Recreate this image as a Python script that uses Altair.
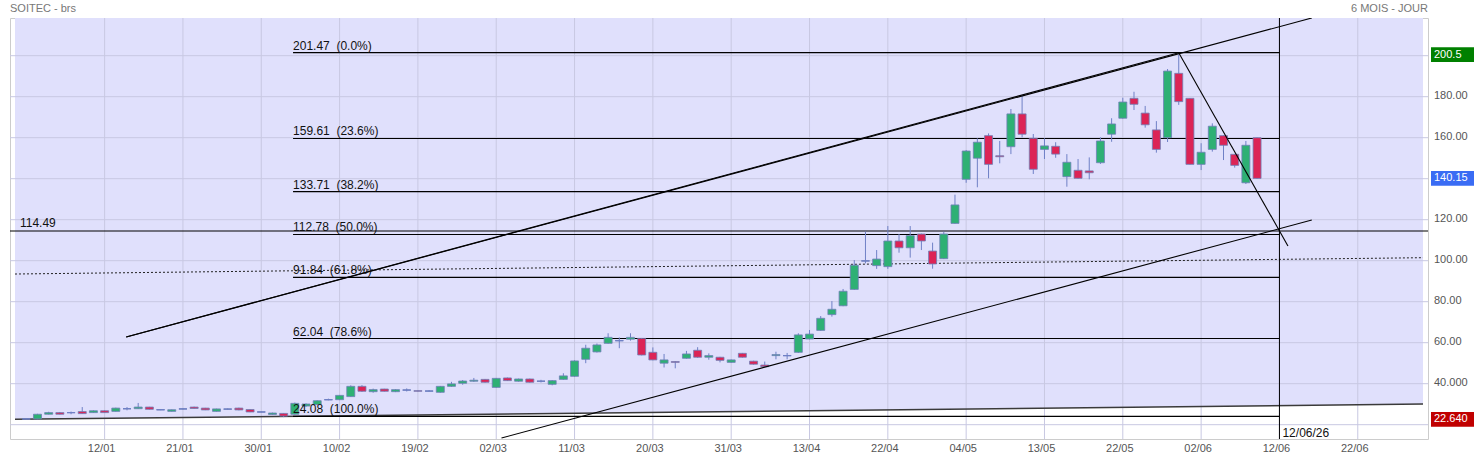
import altair as alt
import pandas as pd

FONT = "Liberation Sans"
W, H = 1418, 421
X_DOMAIN = [-8.01, 117.83]
Y_DOMAIN = [13.02, 218.39]

LAVENDER = "#e0e0fc"
GRID = "#c8c8e2"
GREEN = "#2eb074"
RED = "#dc2456"
WICK = "#6f80c6"

# ---- data -------------------------------------------------------------
title_left = "SOITEC - brs"
title_right = "6 MOIS - JOUR"

x_labels = ["12/01", "21/01", "30/01", "10/02", "19/02", "02/03", "11/03", "20/03", "31/03",
            "13/04", "22/04", "04/05", "13/05", "22/05", "02/06", "12/06", "22/06"]
label_step = 7
x_ticks = [k * label_step for k in range(len(x_labels))]

y_ticks = [40, 60, 80, 100, 120, 160, 180]
y_tick_labels = ["40.000", "60.00", "80.00", "100.00", "120.00", "160.00", "180.00"]
y_grid = [20, 40, 60, 80, 100, 120, 140, 160, 180, 200]

first_index = -7
opens = [22.8, 22.8, 25.1, 25.9, 25.9, 26.4, 25.9, 26.8, 26.5, 27.8,
         27.8, 28.6, 27.3, 26.5, 27.7, 28.6, 28.1, 26.5, 27.6, 28.1,
         27.4, 26.2, 25.0, 25.5, 25.1, 29.1, 29.8, 32.2, 32.2, 33.7,
         38.7, 36.1, 37.4, 36.1, 36.9, 36.6, 36.4, 35.8, 38.7, 40.2,
         41.2, 42.1, 38.2, 42.8, 41.2, 42.3, 41.2, 39.7, 42.1, 43.6,
         51.9, 55.5, 59.7, 61.0, 61.7, 62.1, 55.3, 50.0, 50.8, 52.4,
         56.3, 52.9, 52.9, 50.4, 54.8, 51.0, 49.1, 53.7, 53.7, 55.3,
         61.8, 66.0, 73.7, 78.0, 86.0, 99.9, 97.6, 97.1, 109.6, 106.3,
         113.0, 104.7, 101.0, 118.2, 139.7, 150.0, 161.0, 151.2, 155.6, 171.6,
         159.7, 154.3, 155.8, 141.0, 144.1, 143.8, 147.8, 161.7, 169.5, 179.2,
         172.0, 163.8, 160.0, 191.4, 179.2, 147.0, 154.3, 161.0, 151.9, 138.0,
         160.0]
highs = [23.0, 25.3, 26.3, 26.2, 26.4, 28.6, 27.0, 27.0, 28.3, 28.6,
         30.6, 28.7, 27.6, 27.4, 28.0, 28.8, 28.2, 27.8, 27.9, 28.3,
         27.5, 26.5, 25.9, 25.6, 30.8, 30.4, 31.9, 32.7, 34.5, 39.2,
         39.3, 37.6, 37.5, 37.3, 37.7, 36.7, 36.9, 38.9, 40.9, 41.8,
         42.8, 42.3, 42.8, 43.0, 42.5, 42.5, 41.9, 41.8, 45.1, 51.4,
         59.0, 59.6, 64.6, 62.6, 64.6, 62.3, 57.7, 54.5, 50.9, 56.0,
         57.8, 54.8, 53.1, 51.8, 55.0, 51.2, 50.8, 55.6, 55.0, 64.6,
         66.2, 73.0, 80.3, 86.2, 100.3, 114.2, 105.2, 116.9, 113.0, 116.9,
         113.2, 108.8, 114.1, 132.2, 154.0, 159.7, 162.1, 158.4, 174.0, 180.5,
         161.8, 159.7, 157.8, 152.0, 149.6, 150.4, 160.2, 169.5, 179.5, 182.4,
         175.5, 168.1, 193.5, 200.5, 179.3, 157.3, 167.0, 161.2, 152.0, 158.4,
         160.1]
lows = [22.64, 22.64, 25.0, 25.0, 25.1, 25.3, 25.8, 25.8, 26.4, 27.0,
        27.7, 27.4, 27.1, 26.4, 27.4, 27.8, 27.1, 26.4, 27.3, 27.0,
        26.1, 26.0, 24.9, 23.7, 24.9, 28.7, 29.6, 31.9, 32.0, 33.5,
        36.0, 35.6, 36.2, 35.9, 36.2, 36.2, 36.1, 35.6, 38.5, 39.5,
        40.9, 40.5, 38.0, 41.3, 41.0, 40.5, 40.6, 39.2, 41.9, 43.4,
        50.0, 55.2, 59.5, 57.3, 61.0, 53.8, 51.4, 47.9, 47.5, 52.2,
        52.6, 51.7, 50.4, 50.2, 52.7, 49.3, 48.1, 51.9, 51.9, 55.0,
        61.6, 65.8, 72.7, 77.8, 85.8, 98.7, 96.0, 96.0, 103.9, 101.5,
        105.2, 96.1, 100.8, 118.0, 138.0, 135.8, 140.2, 147.5, 152.0, 160.2,
        142.3, 149.6, 150.2, 136.1, 140.0, 139.7, 147.2, 158.0, 169.3, 173.5,
        164.9, 152.7, 157.9, 176.0, 146.9, 144.2, 153.2, 149.1, 145.4, 137.4,
        140.0]
closes = [22.8, 25.1, 25.9, 25.1, 25.9, 25.4, 26.8, 25.9, 28.1, 27.8,
          28.6, 27.5, 27.3, 27.3, 27.7, 27.9, 27.2, 27.7, 27.6, 27.2,
          26.2, 26.2, 25.7, 24.2, 30.4, 30.1, 31.7, 32.2, 34.3, 38.7,
          36.3, 37.1, 36.3, 37.1, 36.9, 36.3, 36.4, 38.7, 39.9, 41.3,
          41.7, 40.7, 42.6, 41.5, 42.3, 40.7, 41.2, 41.5, 43.8, 51.1,
          57.3, 58.9, 62.6, 61.0, 62.6, 54.0, 51.6, 51.6, 50.4, 54.5,
          52.9, 53.7, 51.4, 51.6, 52.9, 49.5, 48.3, 54.2, 53.7, 63.8,
          64.2, 71.9, 76.3, 85.1, 97.8, 99.9, 100.8, 109.6, 106.3, 112.2,
          109.6, 98.4, 113.0, 127.2, 153.5, 157.8, 147.0, 150.7, 171.6, 161.7,
          144.6, 156.0, 152.0, 148.0, 140.2, 142.9, 158.4, 166.7, 177.4, 176.3,
          166.3, 154.3, 192.5, 177.6, 147.0, 152.9, 165.6, 156.3, 146.5, 156.3,
          140.15]

fib_levels = [201.47, 159.61, 133.71, 112.78, 91.84, 62.04, 24.08]
fib_pcts = ["0.0%", "23.6%", "38.2%", "50.0%", "61.8%", "78.6%", "100.0%"]
fib_start, fib_end = 16.84, 105.0

hline_level = 114.49
vline_index = 105
vline_label = "12/06/26"

# trend lines: (name, x-index points, price points)
trend_names = ["upper_a", "upper_a", "upper_b", "upper_b", "descent", "descent", "lower", "lower"]
trend_x = [1.93, 107.89, 1.93, 96.0, 96.0, 105.76, 35.47, 107.89]
trend_y = [62.78, 218.4, 62.78, 201.47, 201.47, 107.17, 13.5, 119.85]

support_x = [-8.01, 117.83]
support_y = [22.63, 30.1]
dotted_x = [-8.01, 117.83]
dotted_y = [93.5, 101.46]

box_values = [200.5, 140.15, 22.64]
box_labels = ["200.5", "140.15", "22.640"]
box_colors = ["#008000", "#3a6cf4", "#c00000"]

# ---- frames -----------------------------------------------------------
n = len(opens)
candles = pd.DataFrame({
    "i": list(range(first_index, first_index + n)),
    "o": opens, "h": highs, "l": lows, "c": closes,
})
candles["dir"] = ["up" if c > o else ("down" if c < o else "flat") for o, c in zip(opens, closes)]

xs = alt.Scale(domain=X_DOMAIN, nice=False, zero=False)
ys = alt.Scale(domain=Y_DOMAIN, nice=False, zero=False)


def X(f):
    return alt.X(f, type="quantitative", scale=xs, axis=None, title=None)


def Y(f):
    return alt.Y(f, type="quantitative", scale=ys, axis=None, title=None)


area_df = pd.DataFrame({"x": support_x, "y": support_y, "top": [Y_DOMAIN[1]] * len(support_x)})
area = alt.Chart(area_df).mark_area(color=LAVENDER, clip=True).encode(
    x=X("x"), y=Y("top"), y2="y:Q")

grid_x = alt.Chart(pd.DataFrame({"gx": x_ticks})).mark_rule(color=GRID, strokeWidth=1).encode(x=X("gx"))
grid_y = alt.Chart(pd.DataFrame({"gy": y_grid})).mark_rule(color=GRID, strokeWidth=1).encode(y=Y("gy"))

x_lab = alt.Chart(pd.DataFrame({"x": x_ticks, "t": x_labels})).mark_text(
    align="center", baseline="middle", dx=-3, font=FONT, fontSize=11, color="#555555"
).encode(x=X("x"), y=alt.value(H + 10), text="t:N")

y_lab = alt.Chart(pd.DataFrame({"v": y_ticks, "t": y_tick_labels})).mark_text(
    align="left", baseline="middle", dy=-1, font=FONT, fontSize=11, color="#555555"
).encode(x=alt.value(W + 6), y=Y("v"), text="t:N")

support = alt.Chart(pd.DataFrame({"x": support_x, "y": support_y})).mark_line(
    color="#3a3a3a", strokeWidth=1.5, clip=True
).encode(x=X("x"), y=Y("y"))

dotted = alt.Chart(pd.DataFrame({"x": dotted_x, "y": dotted_y})).mark_line(
    color="#222222", strokeWidth=1, strokeDash=[2, 2], clip=True
).encode(x=X("x"), y=Y("y"))

hline = alt.Chart(pd.DataFrame({"v": [hline_level]})).mark_rule(color="black", strokeWidth=1.2).encode(y=Y("v"))

fib_df = pd.DataFrame({
    "lvl": fib_levels,
    "x0": [fib_start] * len(fib_levels),
    "x1": [fib_end] * len(fib_levels),
    "txt": ["%.2f\u00a0\u00a0(%s)" % (v, p) for v, p in zip(fib_levels, fib_pcts)],
})
fib_rules = alt.Chart(fib_df).mark_rule(color="black", strokeWidth=1.2).encode(
    x=X("x0"), x2="x1:Q", y=Y("lvl"))
fib_text = alt.Chart(fib_df).mark_text(
    align="left", baseline="alphabetic", dy=-3, font=FONT, fontSize=12, color="#111111"
).encode(x=X("x0"), y=Y("lvl"), text="txt:N")

vline = alt.Chart(pd.DataFrame({"x": [vline_index]})).mark_rule(color="black", strokeWidth=1).encode(x=X("x"))
vline_text = alt.Chart(pd.DataFrame({"x": [vline_index], "t": [vline_label]})).mark_text(
    align="left", baseline="middle", dx=3, font=FONT, fontSize=12, color="#111111"
).encode(x=X("x"), y=alt.value(415), text="t:N")

hline_text = alt.Chart(pd.DataFrame({"x": [-7.57], "v": [hline_level], "t": ["%.2f" % hline_level]})).mark_text(
    align="left", baseline="alphabetic", dy=-4, font=FONT, fontSize=12, color="#111111"
).encode(x=X("x"), y=Y("v"), text="t:N")

wicks = alt.Chart(candles).mark_rule(color=WICK, strokeWidth=1).encode(x=X("i"), y=Y("l"), y2="h:Q")
bodies = alt.Chart(candles).mark_bar(size=8, stroke="#6f7fb8", strokeWidth=0.8).encode(
    x=X("i"), y=Y("o"), y2="c:Q",
    color=alt.Color("dir:N", scale=alt.Scale(domain=["up", "down", "flat"], range=[GREEN, RED, WICK]),
                    legend=None),
)
flats = alt.Chart(candles).transform_filter("datum.o == datum.c").transform_calculate(
    xl="datum.i - 0.36", xr="datum.i + 0.36"
).mark_rule(color=WICK, strokeWidth=1.2).encode(x=X("xl"), x2="xr:Q", y=Y("o"))

trends = alt.Chart(pd.DataFrame({"name": trend_names, "x": trend_x, "y": trend_y})).mark_line(
    color="black", strokeWidth=1.1, clip=True
).encode(x=X("x"), y=Y("y"), detail="name:N")

titles = alt.Chart(pd.DataFrame({"t": [title_left]})).mark_text(
    align="left", baseline="middle", font=FONT, fontSize=11, color="#777777"
).encode(x=alt.value(0), y=alt.value(-9), text="t:N")
titles_r = alt.Chart(pd.DataFrame({"t": [title_right]})).mark_text(
    align="right", baseline="middle", font=FONT, fontSize=11, color="#777777"
).encode(x=alt.value(W), y=alt.value(-9), text="t:N")

box_df = pd.DataFrame({"v": box_values, "label": box_labels, "col": box_colors})
boxes = alt.Chart(box_df).transform_calculate(
    top="datum.v + 3.6", bot="datum.v - 3.6"
).mark_rect().encode(
    x=alt.value(W + 3), x2=alt.value(W + 46), y=Y("top"), y2="bot:Q",
    color=alt.Color("col:N", scale=None, legend=None),
)
box_text = alt.Chart(box_df).mark_text(
    align="left", baseline="middle", font=FONT, fontSize=11, color="white"
).encode(x=alt.value(W + 6), y=Y("v"), text="label:N")

chart = alt.layer(
    area, grid_x, grid_y, support, dotted, hline, fib_rules, vline,
    wicks, bodies, flats, trends, fib_text, hline_text, vline_text,
    x_lab, y_lab, titles, titles_r, boxes, box_text,
).properties(
    width=W, height=H,
    autosize=alt.AutoSizeParams(type="none"),
    padding={"left": 10, "top": 18, "right": 46, "bottom": 21},
    background="white",
).configure_view(stroke="#cccccc", strokeWidth=1)

chart.save("out.html", embed_options={"renderer": "svg", "actions": False})
